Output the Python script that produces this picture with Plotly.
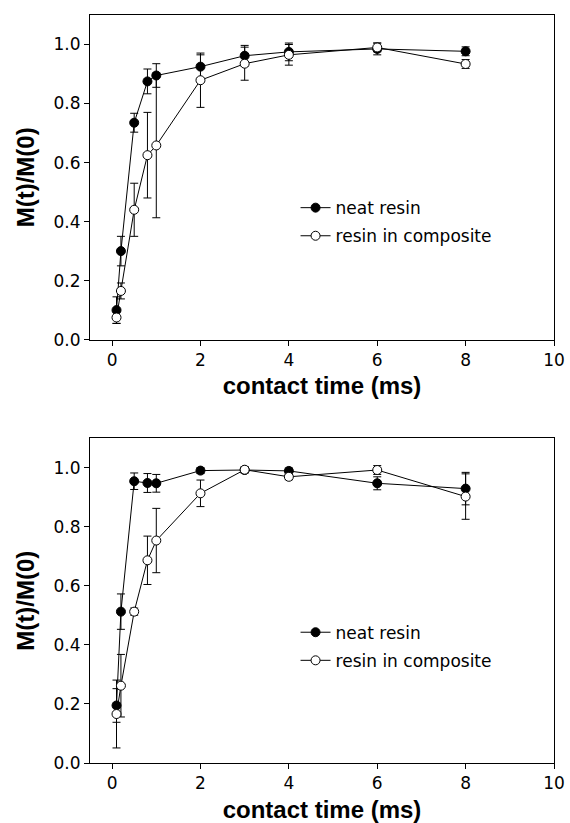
import plotly.graph_objects as go
from plotly.subplots import make_subplots

time_ms = [0.1, 0.2, 0.5, 0.8, 1.0, 2, 3, 4, 6, 8]

top_neat = [0.10, 0.30, 0.735, 0.875, 0.895, 0.925, 0.962, 0.975, 0.985, 0.977]
top_neat_err = [0.045, 0.05, 0.032, 0.042, 0.04, 0.04, 0.035, 0.03, 0.02, 0.015]
top_comp = [0.075, 0.165, 0.44, 0.625, 0.658, 0.879, 0.935, 0.965, 0.99, 0.934]
top_comp_err = [0.02, 0.027, 0.09, 0.145, 0.245, 0.092, 0.056, 0.035, 0.015, 0.015]

bot_neat = [0.195, 0.513, 0.955, 0.949, 0.948, 0.991, 0.993, 0.99, 0.948, 0.93]
bot_neat_err = [0.057, 0.06, 0.028, 0.032, 0.03, 0.01, 0.01, 0.01, 0.022, 0.055]
bot_comp = [0.166, 0.262, 0.513, 0.687, 0.754, 0.914, 0.994, 0.97, 0.993, 0.903]
bot_comp_err = [0.115, 0.106, 0.012, 0.082, 0.109, 0.045, 0.01, 0.01, 0.015, 0.077]

x_ticks = [0, 2, 4, 6, 8, 10]
y_ticks = [0.0, 0.2, 0.4, 0.6, 0.8, 1.0]

FONT = "DejaVu Sans, Arial, sans-serif"
TITLE_FONT = "Liberation Sans, Arial, Helvetica, sans-serif"

fig = make_subplots(rows=2, cols=1)


def add_pair(row, neat, neat_err, comp, comp_err, legend_name):
    fig.add_trace(go.Scatter(
        x=time_ms, y=neat, mode="lines+markers", name="neat resin",
        line=dict(color="black", width=1),
        marker=dict(symbol="circle", size=9, color="black", line=dict(color="black", width=1)),
        error_y=dict(type="data", array=neat_err, visible=True, color="black", thickness=1, width=4),
        legend=legend_name, legendgroup=legend_name + "a", showlegend=True,
    ), row=row, col=1)
    fig.add_trace(go.Scatter(
        x=time_ms, y=comp, mode="lines+markers", name="resin in composite",
        line=dict(color="black", width=1),
        marker=dict(symbol="circle", size=9, color="white", line=dict(color="black", width=1)),
        error_y=dict(type="data", array=comp_err, visible=True, color="black", thickness=1, width=4),
        legend=legend_name, legendgroup=legend_name + "b", showlegend=True,
    ), row=row, col=1)


add_pair(1, top_neat, top_neat_err, top_comp, top_comp_err, "legend")
add_pair(2, bot_neat, bot_neat_err, bot_comp, bot_comp_err, "legend2")

axis_common = dict(
    showline=True, linecolor="black", linewidth=1, mirror=True,
    ticks="outside", ticklen=5, tickcolor="black", tickwidth=1,
    showgrid=False, zeroline=False, automargin=False,
    ticklabeloverflow="allow",
    tickfont=dict(family=FONT, size=17, color="black"),
)

for r in (1, 2):
    fig.update_xaxes(range=[-0.5, 10], tickvals=x_ticks, **axis_common,
                     title=dict(text="<b>contact time (ms)</b>", standoff=8,
                                font=dict(family=TITLE_FONT, size=24, color="black")),
                     row=r, col=1)
    fig.update_yaxes(range=[0, 1.1], tickvals=y_ticks, tickformat=".1f", **axis_common,
                     title=dict(text="<b>M(t)/M(0)</b>", standoff=12,
                                font=dict(family=TITLE_FONT, size=24, color="black")),
                     row=r, col=1)

legend_common = dict(xanchor="left", yanchor="top", tracegroupgap=3,
                     bgcolor="rgba(0,0,0,0)", font=dict(family=FONT, size=17, color="black"))

fig.update_layout(
    width=570, height=823,
    margin=dict(l=90, r=16, t=15, b=60, autoexpand=False),
    paper_bgcolor="white", plot_bgcolor="white",
    font=dict(family=FONT, color="black"),
    xaxis=dict(domain=[0, 1]), yaxis=dict(domain=[0.566, 1.0]),
    xaxis2=dict(domain=[0, 1]), yaxis2=dict(domain=[0.0, 0.4339]),
    legend=dict(x=0.443, y=0.7659, **legend_common),
    legend2=dict(x=0.443, y=0.1983, **legend_common),
)

fig.write_html("out.html",
               config={"displayModeBar": False},
               post_script="document.body.style.margin='0';document.body.style.overflow='hidden';")
